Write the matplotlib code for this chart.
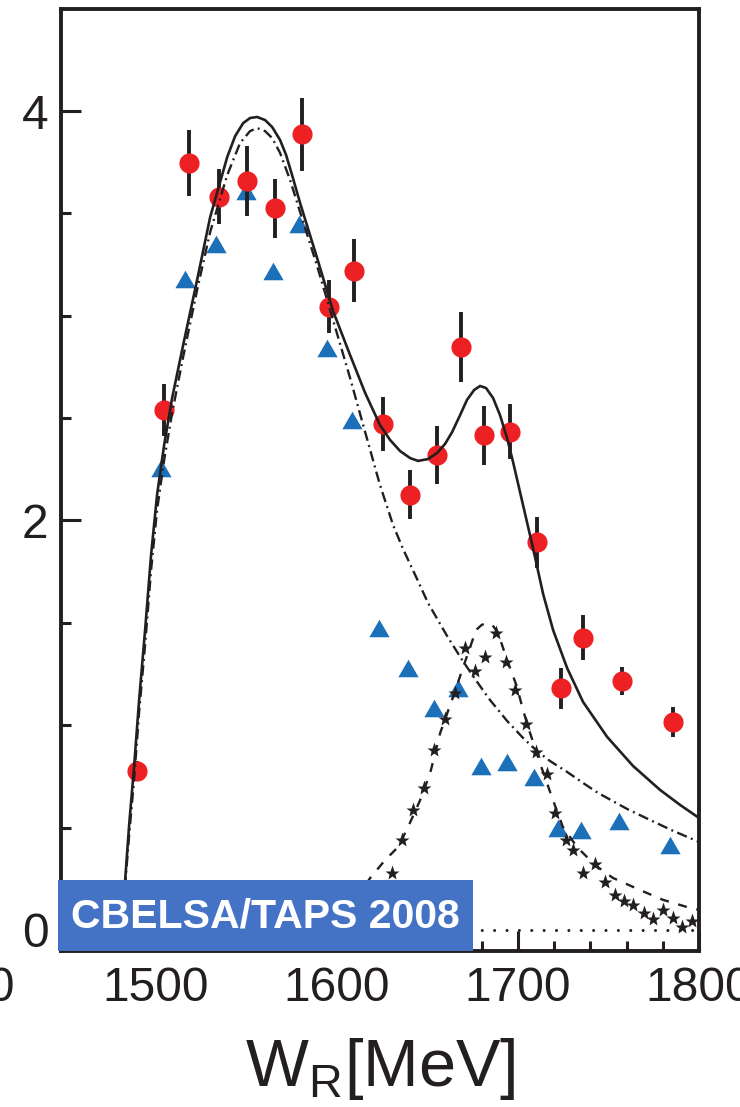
import matplotlib
matplotlib.use("Agg")
import matplotlib.pyplot as plt
from matplotlib.path import Path
from matplotlib.patches import Rectangle
from matplotlib.ticker import MultipleLocator

plt.rcParams['font.family'] = ['Liberation Sans', 'DejaVu Sans']
plt.rcParams['mathtext.fontset'] = 'custom'
plt.rcParams['mathtext.rm'] = 'Liberation Sans'
plt.rcParams['lines.scale_dashes'] = False

INK = '#231f20'
RED = '#ED2024'
BLUE = '#1B70B9'
BOX = '#4472C4'

# ---- measured cross sections ----
red_w = [1489.7, 1504.6, 1518.5, 1535.0, 1550.7, 1566.3, 1581.0, 1595.6, 1609.8, 1625.6,
         1640.7, 1655.4, 1668.6, 1681.4, 1695.8, 1710.5, 1723.7, 1736.1, 1757.6, 1785.7]
red_y = [0.777, 2.54, 3.745, 3.581, 3.658, 3.525, 3.886, 3.044, 3.219, 2.471,
         2.125, 2.32, 2.847, 2.416, 2.434, 1.893, 1.18, 1.428, 1.216, 1.017]
red_err = [0.05, 0.127, 0.16, 0.135, 0.17, 0.145, 0.18, 0.13, 0.154, 0.13,
           0.12, 0.14, 0.17, 0.145, 0.135, 0.125, 0.10, 0.11, 0.07, 0.073]

blue_w = [1503.0, 1516.2, 1533.3, 1549.8, 1564.8, 1579.5, 1594.8, 1608.3, 1623.7, 1639.2,
          1653.9, 1667.3, 1679.8, 1693.9, 1709.0, 1722.4, 1734.9, 1756.0, 1783.9]
blue_y = [2.256, 3.18, 3.35, 3.609, 3.22, 3.447, 2.841, 2.49, 1.474, 1.278,
          1.083, 1.18, 0.80, 0.822, 0.749, 0.497, 0.488, 0.534, 0.415]

star_w = [1630.5, 1635.9, 1642.1, 1648.0, 1654.0, 1660.0, 1665.5, 1671.0, 1676.5, 1682.0,
          1687.9, 1693.4, 1698.5, 1704.4, 1710.1, 1716.0, 1720.6, 1726.6, 1730.5, 1736.0,
          1742.6, 1748.1, 1753.6, 1758.6, 1763.5, 1769.8, 1774.7, 1780.2, 1785.7, 1790.4, 1796.4]
star_y = [0.28, 0.44, 0.586, 0.692, 0.879, 1.029, 1.156, 1.379, 1.266, 1.335,
          1.449, 1.310, 1.172, 1.006, 0.871, 0.762, 0.570, 0.440, 0.391, 0.280,
          0.322, 0.233, 0.171, 0.143, 0.122, 0.082, 0.054, 0.098, 0.057, 0.013, 0.045]

# ---- model curves ----
total_w = [1482.3, 1483.4, 1485.6, 1488.4, 1491.1, 1494.4, 1497.7, 1501.0, 1504.9, 1509.3,
           1515.4, 1523.1, 1530.3, 1539.7, 1544.1, 1548.5, 1552.3, 1556.2, 1560.6, 1564.5,
           1568.9, 1572.2, 1575.5, 1579.9, 1589.3, 1598.1, 1607.5, 1615.8, 1624.0, 1629.6,
           1635.1, 1640.6, 1645.0, 1650.5, 1655.5, 1659.9, 1663.8, 1668.2, 1672.0, 1675.9,
           1679.2, 1682.5, 1686.4, 1690.2, 1694.1, 1697.4, 1702.9, 1708.4, 1714.0, 1719.5,
           1727.2, 1736.0, 1749.3, 1763.6, 1778.5, 1789.5, 1800.0]
total_y = [0.000, 0.244, 0.513, 0.806, 1.123, 1.465, 1.832, 2.125, 2.369, 2.598,
           2.857, 3.175, 3.482, 3.775, 3.878, 3.941, 3.966, 3.971, 3.956, 3.922,
           3.858, 3.785, 3.687, 3.551, 3.282, 3.023, 2.808, 2.623, 2.466, 2.393,
           2.339, 2.305, 2.291, 2.300, 2.330, 2.374, 2.432, 2.515, 2.589, 2.637,
           2.657, 2.647, 2.598, 2.515, 2.403, 2.286, 2.076, 1.866, 1.641, 1.465,
           1.280, 1.114, 0.943, 0.801, 0.684, 0.611, 0.547]

s11_w = [1482.3, 1483.4, 1485.6, 1488.4, 1491.1, 1494.4, 1497.7, 1501.0, 1504.9, 1509.3,
         1515.4, 1523.1, 1530.3, 1539.7, 1546.8, 1552.3, 1556.2, 1560.6, 1564.5, 1568.9,
         1574.4, 1579.9, 1589.3, 1598.1, 1607.5, 1615.8, 1624.0, 1631.2, 1636.7, 1643.4,
         1650.5, 1661.0, 1669.3, 1676.4, 1684.7, 1694.1, 1702.9, 1710.6, 1717.8, 1727.2,
         1736.0, 1744.3, 1760.3, 1773.0, 1785.7, 1800.0]
s11_y = [0.000, 0.220, 0.464, 0.742, 1.065, 1.392, 1.758, 2.051, 2.295, 2.525,
         2.799, 3.126, 3.409, 3.687, 3.844, 3.902, 3.917, 3.902, 3.868, 3.795,
         3.663, 3.507, 3.243, 2.979, 2.696, 2.432, 2.173, 1.978, 1.861, 1.734,
         1.597, 1.436, 1.319, 1.226, 1.123, 1.021, 0.938, 0.874, 0.825, 0.772,
         0.718, 0.669, 0.591, 0.537, 0.484, 0.430]

narrow_w = [1610.4, 1618.6, 1626.9, 1634.0, 1639.5, 1646.2, 1651.7, 1657.2, 1664.3, 1669.9,
            1677.0, 1680.1, 1683.1, 1686.2, 1689.1, 1694.1, 1699.6, 1702.9, 1706.8, 1712.8,
            1719.4, 1724.9, 1732.7, 1742.6, 1752.5, 1767.4, 1780.1, 1793.3, 1800.0]
narrow_y = [0.147, 0.254, 0.342, 0.405, 0.503, 0.635, 0.767, 0.962, 1.138, 1.284,
            1.465, 1.490, 1.499, 1.487, 1.451, 1.319, 1.187, 1.074, 0.962, 0.801,
            0.635, 0.503, 0.405, 0.317, 0.254, 0.195, 0.147, 0.112, 0.098]

xticks = [1500, 1600, 1700, 1800]
yticks = [0, 2, 4]
ytick_labels = ['0', '2', '4']
badge_text = 'CBELSA/TAPS 2008'

W, H = 740, 1107
fig = plt.figure(figsize=(W / 100, H / 100), dpi=100)
ax = fig.add_axes([61 / W, 1 - 951 / H, (699 - 61) / W, (951 - 9.3) / H])

ax.set_xlim(1448, 1800)
ax.set_ylim(-0.103, 4.497)

# zero reference line
ax.axhline(0, color=INK, lw=2.2, linestyle=(0, (0.01, 8.9)),
           dash_capstyle='round', zorder=1)

# triangle with equal sides as a marker
tri = Path([(0, 0.5), (-0.577, -0.5), (0.577, -0.5), (0, 0.5)],
           [Path.MOVETO, Path.LINETO, Path.LINETO, Path.CLOSEPOLY])
ax.plot(blue_w, blue_y, linestyle='none', marker=tri, ms=14.6,
        color=BLUE, mec='none', zorder=2)

ax.plot(star_w, star_y, linestyle='none', marker='*', ms=11,
        color=INK, mec='none', zorder=3)

ax.errorbar(red_w, red_y, yerr=red_err, fmt='none', ecolor=INK,
            elinewidth=2.8, capsize=0, zorder=3)
ax.plot(red_w, red_y, linestyle='none', marker='o', ms=14.5,
        color=RED, mec='none', zorder=4)

ax.plot(total_w, total_y, color=INK, lw=1.9, zorder=5, solid_joinstyle='round')
ax.plot(s11_w, s11_y, color=INK, lw=1.7, zorder=5,
        linestyle=(0, (7.5, 3.2, 1.4, 3.2)))
ax.plot(narrow_w, narrow_y, color=INK, lw=1.7, zorder=5,
        linestyle=(0, (6.5, 7.0)))

# axes styling
for sp in ax.spines.values():
    sp.set_linewidth(2.8)
    sp.set_color(INK)

ax.set_xticks(xticks)
ax.set_yticks(yticks)
ax.set_yticklabels(ytick_labels)
ax.xaxis.set_minor_locator(MultipleLocator(20))
ax.yaxis.set_minor_locator(MultipleLocator(0.5))
ax.tick_params(which='both', direction='in', top=False, right=False,
               color=INK, labelcolor=INK, labelsize=34.5)
ax.tick_params(which='major', length=14.4, width=2.2)
ax.tick_params(which='minor', length=7.2, width=2.2)
ax.tick_params(axis='x', pad=11)
ax.tick_params(axis='y', pad=9)

# neighbouring tick value just past the left edge
ax.annotate('1400', xy=(1400, 0), xycoords=('data', 'axes fraction'),
            xytext=(-9, -11), textcoords='offset points', ha='center', va='top',
            fontsize=34.5, color=INK, annotation_clip=False)

ax.set_xlabel(r'W$_{\mathregular{R}}$[MeV]', fontsize=48, color=INK, labelpad=18)

# experiment badge
fig.add_artist(Rectangle((58 / W, 1 - 951 / H), 415 / W, 71 / H,
                         transform=fig.transFigure, facecolor=BOX,
                         edgecolor='none', zorder=10))
fig.text(265.5 / W, 1 - 916 / H, badge_text, color='white', fontweight='bold',
         fontsize=29.5, ha='center', va='center', zorder=11)

fig.savefig('out.png', dpi=100)
